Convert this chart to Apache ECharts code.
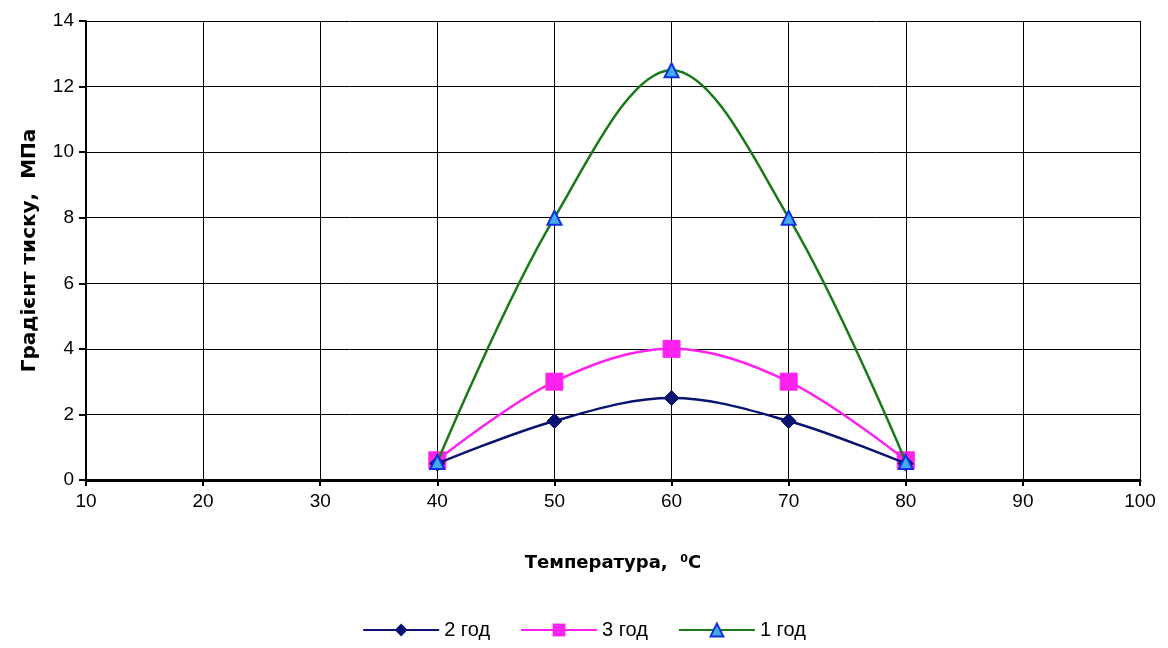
<!DOCTYPE html>
<html><head><meta charset="utf-8">
<script src="https://cdn.jsdelivr.net/npm/echarts@6/dist/echarts.min.js"></script>
<style>html,body{margin:0;padding:0;background:#fff}#c{width:1168px;height:648px}</style>
</head><body><div id="c"></div>
<script>
const temps = [40, 50, 60, 70, 80];
const s2 = [0.5, 1.8, 2.5, 1.8, 0.5];
const s3 = [0.6, 3.0, 4.0, 3.0, 0.6];
const s1 = [0.55, 8.0, 12.5, 8.0, 0.55];
const names = ['2 год', '3 год', '1 год'];
const FONT = '"Liberation Sans Narrow", "Arial Narrow", "Liberation Sans", Arial, sans-serif';
const BOLD = '"DejaVu Sans", "Liberation Sans", Arial, sans-serif';
const pairs = a => temps.map((t, i) => [t, a[i]]);
const chart = echarts.init(document.getElementById('c'));
chart.setOption({
  animation: false,
  textStyle: {fontFamily: FONT},
  grid: {left: 86, right: 28, top: 21, bottom: 168},
  legend: {
    bottom: 3, left: 'center', itemWidth: 76, itemHeight: 16, itemGap: 30,
    textStyle: {fontFamily: FONT, fontSize: 20, color: '#000'},
    data: names
  },
  xAxis: {
    type: 'value', min: 10, max: 100, interval: 10,
    name: 'Температура,  ⁰C', nameLocation: 'middle', nameGap: 74,
    nameTextStyle: {fontFamily: BOLD, fontWeight: 'bold', fontSize: 18, color: '#000'},
    axisLine: {onZero: false, lineStyle: {color: '#000', width: 3}},
    axisTick: {show: true, length: 6, lineStyle: {color: '#000', width: 2}},
    axisLabel: {fontFamily: FONT, fontSize: 19, color: '#000', margin: 12},
    splitLine: {show: true, lineStyle: {color: '#000', width: 1}}
  },
  yAxis: {
    type: 'value', min: 0, max: 14, interval: 2,
    name: 'Градієнт тиску,  МПа', nameLocation: 'middle', nameGap: 46,
    nameTextStyle: {fontFamily: BOLD, fontWeight: 'bold', fontSize: 20, color: '#000'},
    axisLine: {show: true, lineStyle: {color: '#000', width: 2}},
    axisTick: {show: true, length: 7, lineStyle: {color: '#000', width: 2}},
    axisLabel: {fontFamily: FONT, fontSize: 19, color: '#000', margin: 12},
    splitLine: {show: true, lineStyle: {color: '#000', width: 1}}
  },
  series: [
    {name: names[0], type: 'line', smooth: 0.35, data: pairs(s2), z: 3,
     lineStyle: {color: '#0a1470', width: 2.5}, itemStyle: {color: '#0a1470', borderColor: '#0a1470'},
     symbol: 'diamond', symbolSize: 15},
    {name: names[1], type: 'line', smooth: 0.35, data: pairs(s3), z: 2,
     lineStyle: {color: '#ff22ee', width: 2.5}, itemStyle: {color: '#ff22ee', borderColor: '#ff22ee'},
     symbol: 'rect', symbolSize: 17},
    {name: names[2], type: 'line', smooth: 0.35, data: pairs(s1), z: 4,
     lineStyle: {color: '#1a7a1a', width: 2.5}, itemStyle: {color: '#44aaee', borderColor: '#1030e0', borderWidth: 2},
     symbol: 'triangle', symbolSize: 14}
  ]
});
</script></body></html>
